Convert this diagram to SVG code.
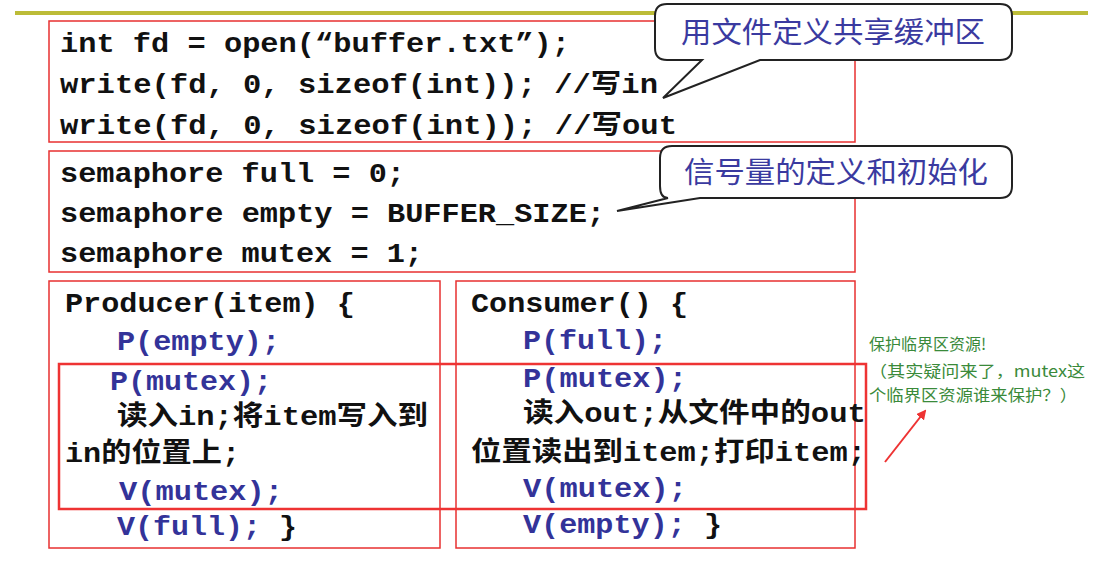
<svg xmlns="http://www.w3.org/2000/svg" width="1099" height="562" viewBox="0 0 1099 562">
<style>
.c{font-family:"Liberation Mono","Noto Sans CJK SC",monospace;font-weight:bold;font-size:27px;fill:#111}
.b{fill:#333399}
.box{fill:#fff;stroke:#e83030;stroke-width:1.5}
.call{fill:#fff;stroke:#222;stroke-width:2}
.ct{font-family:"Noto Sans CJK SC",sans-serif;font-size:29px;fill:#3a3aa0}
.g{font-family:"Noto Sans CJK SC",sans-serif;font-size:16px;fill:#3a8a3a}
</style>
<defs><marker id="ah" markerWidth="10" markerHeight="10" refX="8" refY="5" orient="auto" markerUnits="userSpaceOnUse"><path d="M0,0 L10,5 L0,10 z" fill="#ee3333"/></marker></defs>
<rect x="15" y="11" width="1073" height="4" fill="#bcbc38"/>
<g id="box1"><rect class="box" x="49" y="21" width="806" height="121"/>
<text class="c" x="60" y="52" textLength="510" lengthAdjust="spacingAndGlyphs">int fd = open(“buffer.txt”);</text>
<text class="c" x="60" y="93" textLength="598" lengthAdjust="spacingAndGlyphs">write(fd, 0, sizeof(int)); //写in</text>
<text class="c" x="60" y="134" textLength="617" lengthAdjust="spacingAndGlyphs">write(fd, 0, sizeof(int)); //写out</text></g>
<g id="box2"><rect class="box" x="49" y="151" width="806" height="121"/>
<text class="c" x="60" y="182" textLength="345" lengthAdjust="spacingAndGlyphs">semaphore full = 0;</text>
<text class="c" x="60" y="222" textLength="545" lengthAdjust="spacingAndGlyphs">semaphore empty = BUFFER_SIZE;</text>
<text class="c" x="60" y="262" textLength="363" lengthAdjust="spacingAndGlyphs">semaphore mutex = 1;</text></g>
<g id="producer"><rect class="box" x="49" y="281" width="391" height="267"/>
<text class="c" x="65" y="312" textLength="290" lengthAdjust="spacingAndGlyphs">Producer(item) {</text>
<text class="c b" x="117" y="350" textLength="163" lengthAdjust="spacingAndGlyphs">P(empty);</text>
<text class="c b" x="110" y="390" textLength="162" lengthAdjust="spacingAndGlyphs">P(mutex);</text>
<text class="c" x="117" y="425" textLength="311" lengthAdjust="spacingAndGlyphs">读入in;将item写入到</text>
<text class="c" x="65" y="462" textLength="175" lengthAdjust="spacingAndGlyphs">in的位置上;</text>
<text class="c b" x="119" y="500" textLength="164" lengthAdjust="spacingAndGlyphs">V(mutex);</text>
<text class="c" x="117" y="535" textLength="180" lengthAdjust="spacingAndGlyphs"><tspan class="b">V(full);</tspan> }</text></g>
<g id="consumer"><rect class="box" x="456" y="281" width="399" height="267"/>
<text class="c" x="471" y="312" textLength="217" lengthAdjust="spacingAndGlyphs">Consumer() {</text>
<text class="c b" x="523" y="349" textLength="144" lengthAdjust="spacingAndGlyphs">P(full);</text>
<text class="c b" x="523" y="387" textLength="164" lengthAdjust="spacingAndGlyphs">P(mutex);</text>
<text class="c" x="523" y="422" textLength="343" lengthAdjust="spacingAndGlyphs">读入out;从文件中的out</text>
<text class="c" x="471" y="461" textLength="395" lengthAdjust="spacingAndGlyphs">位置读出到item;打印item;</text>
<text class="c b" x="523" y="497" textLength="164" lengthAdjust="spacingAndGlyphs">V(mutex);</text>
<text class="c" x="523" y="533" textLength="199" lengthAdjust="spacingAndGlyphs"><tspan class="b">V(empty);</tspan> }</text></g>
<rect id="critical" x="59" y="364" width="807" height="145" fill="none" stroke="#ee3333" stroke-width="2.5"/>
<g id="callout1"><path class="call" d="M667,4 H1000 Q1012,4 1012,16 V48 Q1012,60 1000,60 H760 L663,98 L702,60 H667 Q655,60 655,48 V16 Q655,4 667,4 Z"/>
<text class="ct" x="681" y="43" textLength="304" lengthAdjust="spacingAndGlyphs">用文件定义共享缓冲区</text></g>
<g id="callout2"><path class="call" d="M672,146 H1000 Q1012,146 1012,158 V186 Q1012,198 1000,198 H700 L617,211 L668,198 Q660,198 660,186 V158 Q660,146 672,146 Z"/>
<text class="ct" x="684" y="183" textLength="304" lengthAdjust="spacingAndGlyphs">信号量的定义和初始化</text></g>
<g id="note"><text class="g" x="869" y="350">保护临界区资源!</text>
<text class="g" x="869" y="377" textLength="216" lengthAdjust="spacingAndGlyphs">（其实疑问来了，mutex这</text>
<text class="g" x="869" y="401" textLength="208" lengthAdjust="spacingAndGlyphs">个临界区资源谁来保护？）</text></g>
<g id="connectors"><line x1="885" y1="462" x2="925" y2="411" stroke="#ee3333" stroke-width="2" marker-end="url(#ah)"/></g>
</svg>
